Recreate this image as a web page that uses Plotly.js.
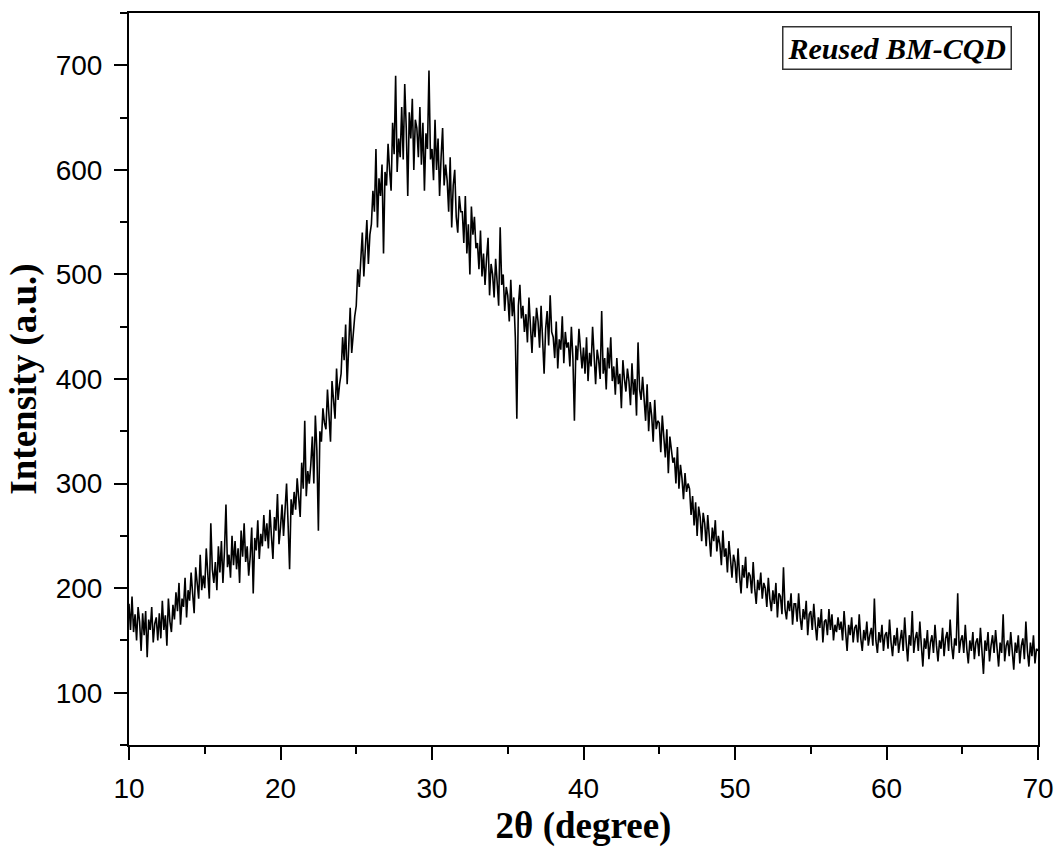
<!DOCTYPE html>
<html>
<head>
<meta charset="utf-8">
<script src="https://cdn.plot.ly/plotly-3.0.1.min.js"></script>
<style>html,body{margin:0;padding:0;background:#fff;}#chart{width:1059px;height:848px;}</style>
</head>
<body>
<div id="chart"></div>
<script>
// 2-theta sampling grid (degrees)
const thetaStart = 10.0;
const thetaStep = 0.1;
// Intensity, 10 samples per degree, 10.0 .. 70.0
const intensity = [
185,160,192,158,175,150,182,168,140,176,
155,178,134,170,160,182,148,166,172,150,
176,152,188,160,174,145,190,168,158,184,
170,196,178,205,165,190,182,210,172,198,
188,215,195,176,220,205,190,232,198,212,
200,238,210,190,262,218,205,225,198,240,
215,245,205,235,280,220,232,210,250,222,
245,218,238,205,255,230,262,225,240,212,
230,258,195,248,236,265,228,252,240,270,
245,262,238,275,250,228,268,255,290,242,
258,280,250,272,300,262,218,285,270,292,
275,305,282,268,320,295,360,288,312,300,
318,345,300,365,332,255,350,340,372,358,
352,390,365,340,398,375,362,410,380,395,
405,440,418,452,395,430,468,425,445,460,
470,505,488,520,540,498,530,552,510,538,
548,580,560,620,545,592,575,605,520,598,
585,625,600,580,645,615,690,598,630,612,
660,610,682,640,575,655,630,668,600,648,
640,612,660,605,645,580,635,620,695,610,
620,590,648,600,630,575,612,640,585,605,
590,560,612,545,585,600,555,540,575,560,
560,530,575,520,548,500,565,538,555,525,
530,505,542,498,520,490,515,535,480,510,
500,478,515,485,470,545,490,500,465,488,
480,455,495,460,478,440,362,470,490,458,
470,445,462,435,478,450,425,460,440,468,
455,430,470,438,405,448,465,432,480,445,
440,420,455,410,438,428,460,415,445,430,
435,412,450,420,360,432,418,448,425,410,
430,405,440,398,425,412,450,420,395,428,
418,400,465,405,420,390,430,410,440,398,
412,385,420,395,405,372,418,400,388,410,
398,375,415,385,400,365,435,390,380,402,
385,360,395,350,378,365,340,380,352,360,
358,330,365,340,325,352,310,345,330,320,
325,300,335,295,318,305,285,310,292,300,
295,270,288,260,282,250,278,268,245,272,
262,240,270,248,230,258,245,265,235,250,
242,222,255,230,238,215,245,228,210,232,
225,205,238,212,195,222,210,230,200,215,
212,195,225,200,185,208,198,215,190,205,
200,182,210,190,178,198,185,205,172,195,
192,175,220,180,170,188,178,195,165,185,
185,168,195,172,160,180,170,188,155,175,
178,160,185,165,150,172,162,180,148,168,
170,155,180,160,175,150,165,158,172,160,
168,150,178,158,140,165,155,172,148,162,
165,148,175,152,140,160,150,168,145,155,
162,145,190,150,138,158,148,165,140,155,
158,142,170,148,135,155,145,162,138,150,
160,140,172,148,130,155,145,178,138,152,
158,140,168,145,125,152,142,160,132,148,
155,138,165,145,130,150,142,162,135,152,
158,140,170,145,132,152,145,195,138,150,
155,138,165,142,128,150,140,158,132,148,
152,135,162,140,118,150,140,158,130,145,
155,138,160,142,125,148,138,175,130,145,
150,135,158,140,122,148,138,155,128,145,
152,132,168,140,125,148,135,155,128,142,
140
];
const xTicks = [10, 20, 30, 40, 50, 60, 70];
const yTicks = [100, 200, 300, 400, 500, 600, 700];
const labelText = "Reused BM-CQD";

const theta = intensity.map((_, i) => +(thetaStart + i * thetaStep).toFixed(2));

const trace = {
  x: theta, y: intensity, type: 'scatter', mode: 'lines',
  line: {color: '#000', width: 1.6}, hoverinfo: 'x+y'
};

const axisCommon = {
  showline: true, linecolor: '#000', linewidth: 2, mirror: true,
  showgrid: false, zeroline: false, ticks: 'outside', ticklen: 13, tickwidth: 2,
  tickcolor: '#000', tickfont: {family: 'Liberation Sans, Arial, sans-serif', size: 28, color: '#000'}
};

const titleFont = {family: 'Liberation Serif, Times New Roman, serif', size: 37, color: '#000', weight: 'bold'};

const layout = {
  width: 1059, height: 848,
  margin: {l: 129, r: 21, t: 13, b: 103},
  paper_bgcolor: '#fff', plot_bgcolor: '#fff',
  showlegend: false,
  xaxis: Object.assign({}, axisCommon, {
    range: [10, 70], tickvals: xTicks, ticktext: xTicks.map(String),
    ticklabelstandoff: 4,
    minor: {dtick: 5, tick0: 10, ticks: 'outside', ticklen: 7, tickwidth: 2, tickcolor: '#000', showgrid: false},
    title: {text: '2θ (degree)', standoff: 10, font: titleFont}
  }),
  yaxis: Object.assign({}, axisCommon, {
    range: [50, 750], tickvals: yTicks, ticktext: yTicks.map(String),
    ticklabelstandoff: 6,
    minor: {dtick: 50, tick0: 50, ticks: 'outside', ticklen: 7, tickwidth: 2, tickcolor: '#000', showgrid: false},
    title: {text: 'Intensity (a.u.)', standoff: 8, font: titleFont}
  }),
  annotations: [{
    xref: 'paper', yref: 'paper', x: 0.8445, y: 0.9525, xanchor: 'center', yanchor: 'middle',
    text: '<b><i>' + labelText + '</i></b>', showarrow: false,
    font: {family: 'Liberation Serif, Times New Roman, serif', size: 30, color: '#000'},
    bordercolor: '#333', borderwidth: 1.5, borderpad: 4, bgcolor: '#fff'
  }]
};

Plotly.newPlot('chart', [trace], layout, {displayModeBar: false, staticPlot: true});
</script>
</body>
</html>
